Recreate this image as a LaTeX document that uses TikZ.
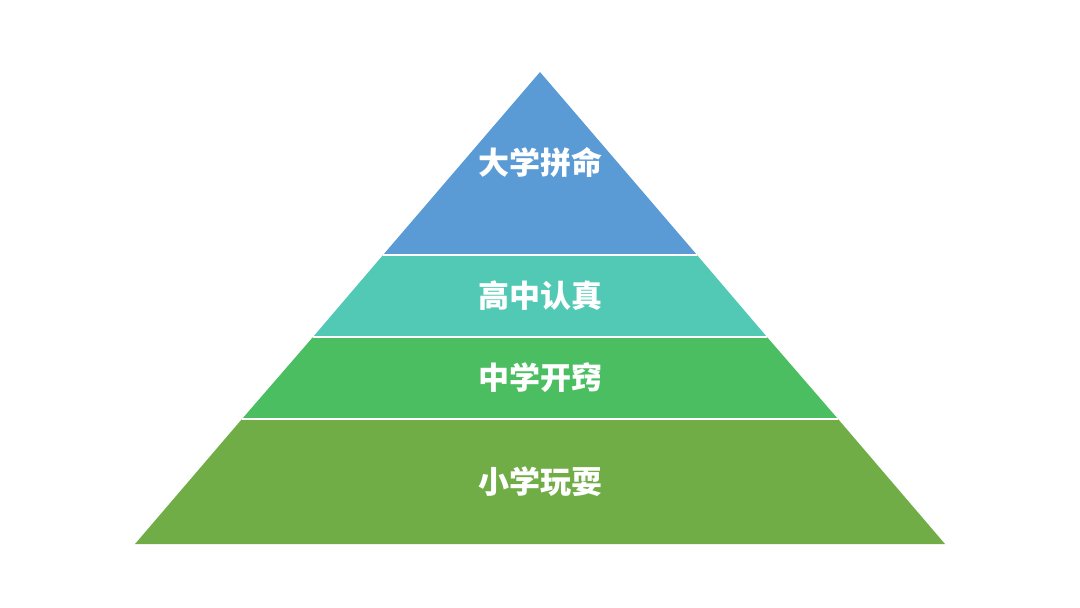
\documentclass[tikz,border=0pt]{standalone}
\usepackage{fontspec}
\usepackage{tikz}
\usetikzlibrary{positioning, calc}
\newfontfamily\cjk{Noto Sans CJK SC}
\definecolor{TopBlue}{HTML}{5B9BD5}
\definecolor{HighTeal}{HTML}{52C9B5}
\definecolor{MidGreen}{HTML}{4BBE62}
\definecolor{BaseGreen}{HTML}{70AD47}

\begin{document}
\begin{tikzpicture}[
    x=0.5pt, y=-0.5pt,
    tier/.style={draw=none},
    sep/.style={draw=white, line width=1pt},
    tiertext/.style={text=white, font=\cjk\bfseries\fontsize{15.5}{18}\selectfont, inner sep=0pt}
]
    \useasboundingbox (0,0) rectangle (1080,608);

    % Corners of the pyramid
    \coordinate (apex) at (540,72);
    \coordinate (l1) at (383,255);  \coordinate (r1) at (697,255);
    \coordinate (l2) at (313,337);  \coordinate (r2) at (767,337);
    \coordinate (l3) at (242,419);  \coordinate (r3) at (838,419);
    \coordinate (l4) at (135,544);  \coordinate (r4) at (945,544);

    % Tiers
    \fill[tier, TopBlue] (apex) -- (r1) -- (l1) -- cycle;
    \fill[tier, HighTeal] (l1) -- (r1) -- (r2) -- (l2) -- cycle;
    \fill[tier, MidGreen] (l2) -- (r2) -- (r3) -- (l3) -- cycle;
    \fill[tier, BaseGreen] (l3) -- (r3) -- (r4) -- (l4) -- cycle;

    % Separators
    \draw[sep] (l1) -- (r1);
    \draw[sep] (l2) -- (r2);
    \draw[sep] (l3) -- (r3);

    % Labels
    \node[tiertext] (uni) at (540,163) {大学拼命};
    \node[tiertext] (high) at (540,296) {高中认真};
    \node[tiertext] (middle) at (540,378) {中学开窍};
    \node[tiertext] (primary) at (540,482) {小学玩耍};
\end{tikzpicture}
\end{document}
